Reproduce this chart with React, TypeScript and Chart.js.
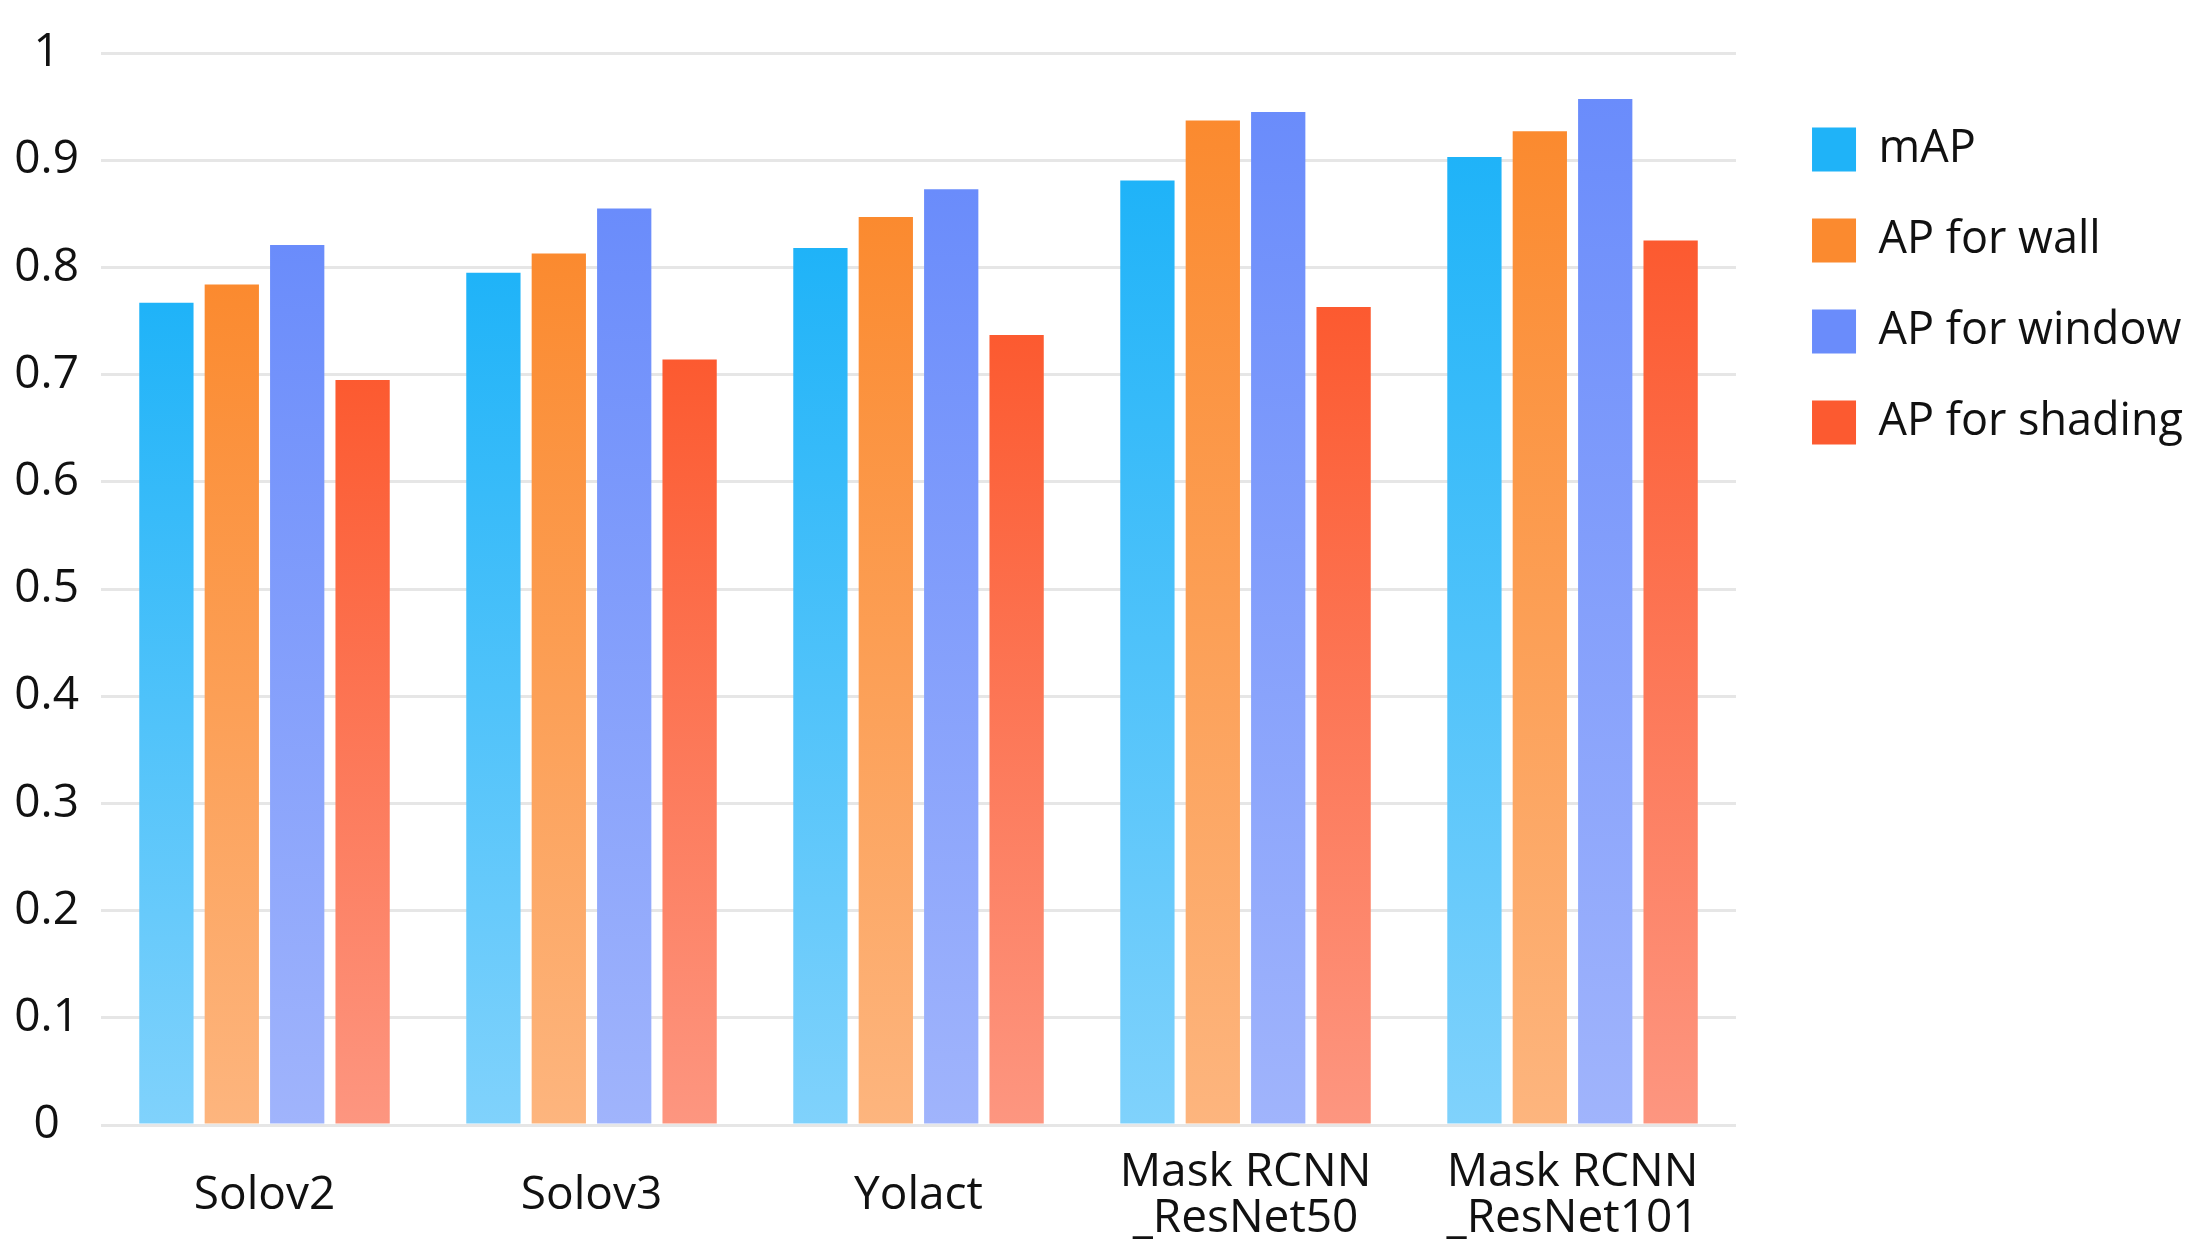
import { useEffect, useRef } from "react";
import { Chart, registerables } from "chart.js";

Chart.register(...registerables);

const categories = [
  "Solov2",
  "Solov3",
  "Yolact",
  ["Mask RCNN", "_ResNet50"],
  ["Mask RCNN", "_ResNet101"],
];

const seriesNames = ["mAP", "AP for wall", "AP for window", "AP for shading"];

const mapValues = [0.767, 0.795, 0.818, 0.881, 0.903];
const wallValues = [0.784, 0.813, 0.847, 0.937, 0.927];
const windowValues = [0.821, 0.855, 0.873, 0.945, 0.957];
const shadingValues = [0.695, 0.714, 0.737, 0.763, 0.825];

// top / bottom colour of each bar's gradient
const topColors = ["#1fb3f8", "#fb8a2f", "#6a8cfb", "#fc5a30"];
const bottomColors = ["#80d2fc", "#fdb57e", "#a0b4fc", "#fd9680"];

const FONT = "'Open Sans', 'Noto Sans', sans-serif";
const TEXT = "#111";

const barGradient = (i: number) => (ctx: any) => {
  const chart = ctx.chart;
  const { chartArea, scales } = chart;
  if (!chartArea || ctx.type !== "data") return topColors[i];
  const yTop = scales.y.getPixelForValue(ctx.raw);
  const yBot = scales.y.getPixelForValue(0);
  const g = chart.ctx.createLinearGradient(0, yTop, 0, yBot);
  g.addColorStop(0, topColors[i]);
  g.addColorStop(1, bottomColors[i]);
  return g;
};

const App = () => {
  const canvasRef = useRef<HTMLCanvasElement>(null);
  const chartRef = useRef<Chart | null>(null);

  useEffect(() => {
    document.body.style.margin = "0";
    if (!canvasRef.current) return;
    if (chartRef.current) chartRef.current.destroy();

    const allValues = [mapValues, wallValues, windowValues, shadingValues];

    chartRef.current = new Chart(canvasRef.current, {
      type: "bar",
      data: {
        labels: categories as any,
        datasets: allValues.map((vals, i) => ({
          label: seriesNames[i],
          data: vals,
          backgroundColor: barGradient(i),
          borderWidth: 0,
          categoryPercentage: 0.8,
          barPercentage: 0.83,
        })),
      },
      options: {
        responsive: false,
        devicePixelRatio: 1,
        animation: false,
        layout: { padding: { top: 53, left: 16, right: 6, bottom: 0 } },
        scales: {
          x: {
            grid: { display: false, drawTicks: false },
            border: { display: false },
            ticks: {
              color: TEXT,
              padding: 48,
              crossAlign: "center",
              maxRotation: 0,
              autoSkip: false,
              font: { family: FONT, size: 46, lineHeight: 1.0 },
            },
            afterFit: (scale: any) => {
              scale.height = 128;
            },
          },
          y: {
            min: 0,
            max: 1,
            grid: { color: "#e6e6e6", lineWidth: 3, drawTicks: false },
            border: { display: false },
            ticks: {
              stepSize: 0.1,
              color: TEXT,
              padding: 22,
              crossAlign: "center",
              font: { family: FONT, size: 46 },
              callback: (v: any) => String(Math.round(Number(v) * 10) / 10),
            },
            afterFit: (scale: any) => {
              scale.width = 85;
            },
          },
          gap: {
            type: "linear",
            position: "right",
            display: true,
            grid: { display: false, drawTicks: false },
            border: { display: false },
            ticks: { display: false },
            afterFit: (scale: any) => {
              scale.width = 30;
            },
          },
        },
        plugins: {
          tooltip: { enabled: false },
          legend: {
            position: "right",
            align: "start",
            maxWidth: 700,
            title: { display: true, text: "", font: { size: 10 }, padding: { top: 16, bottom: 0 } },
            labels: {
              boxWidth: 44,
              boxHeight: 44,
              padding: 46,
              color: TEXT,
              font: { family: FONT, size: 45 },
              generateLabels: () =>
                seriesNames.map((name, i) => ({
                  text: name,
                  fillStyle: topColors[i],
                  strokeStyle: "rgba(0,0,0,0)",
                  fontColor: TEXT,
                  lineWidth: 0,
                  hidden: false,
                  datasetIndex: i,
                })),
            },
          },
        },
      },
    } as any);

    return () => {
      if (chartRef.current) {
        chartRef.current.destroy();
        chartRef.current = null;
      }
    };
  }, []);

  return (
    <div style={{ width: 2199, height: 1253, background: "#fff" }}>
      <canvas ref={canvasRef} width={2199} height={1253} />
    </div>
  );
};

export default App;
